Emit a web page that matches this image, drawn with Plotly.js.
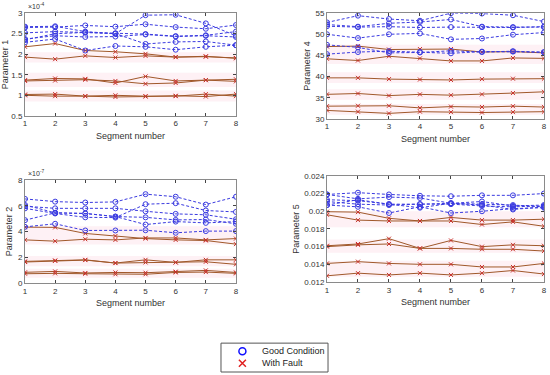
<!DOCTYPE html>
<html>
<head>
<meta charset="utf-8">
<script src="https://cdn.plot.ly/plotly-3.0.1.min.js"></script>
<style>html,body{margin:0;padding:0;background:#fff}#chart{width:550px;height:375px}</style>
</head>
<body>
<div id="chart"></div>
<script>
// Segment numbers
const segments = [1, 2, 3, 4, 5, 6, 7, 8];

// Parameter 1 (units of 1e-4)
const p1Good = [
  [2.67, 2.68, 2.55, 2.50, 2.95, 2.96, 2.75, 2.45],
  [2.65, 2.66, 2.70, 2.67, 2.73, 2.66, 2.62, 2.71],
  [2.52, 2.55, 2.53, 2.51, 2.49, 2.44, 2.46, 2.55],
  [2.37, 2.45, 2.42, 2.43, 2.48, 2.43, 2.45, 2.42],
  [2.29, 2.37, 2.09, 2.20, 2.18, 2.11, 2.18, 2.22],
  [2.35, 2.50, 2.53, 2.50, 2.25, 2.30, 2.31, 2.22]
];
const p1Fault = [
  [2.18, 2.26, 2.09, 2.06, 2.01, 1.93, 1.94, 1.91],
  [1.93, 1.88, 1.96, 1.92, 1.96, 1.93, 1.95, 1.90],
  [1.37, 1.41, 1.40, 1.30, 1.46, 1.35, 1.37, 1.39],
  [1.35, 1.36, 1.38, 1.35, 1.28, 1.30, 1.37, 1.34],
  [1.02, 1.03, 0.98, 1.00, 0.98, 0.98, 1.03, 0.98],
  [1.00, 0.98, 0.98, 0.96, 0.97, 0.99, 0.97, 1.03]
];

// Parameter 4
const p4Good = [
  [52.8, 54.4, 53.6, 53.2, 55.0, 54.9, 54.5, 53.0],
  [52.3, 51.8, 52.6, 52.9, 53.5, 51.8, 51.7, 51.7],
  [51.9, 51.7, 51.8, 51.6, 51.7, 51.7, 51.6, 51.8],
  [50.0, 49.1, 50.0, 50.2, 48.8, 49.0, 49.9, 50.4],
  [47.5, 46.9, 45.6, 45.7, 46.1, 45.8, 46.0, 45.7],
  [45.3, 45.8, 46.0, 45.8, 45.5, 45.9, 45.9, 45.8]
];
const p4Fault = [
  [47.1, 47.2, 46.4, 46.5, 46.5, 45.8, 45.9, 45.6],
  [44.2, 43.8, 44.8, 44.3, 43.7, 43.7, 44.4, 44.3],
  [39.7, 39.7, 39.4, 39.3, 39.2, 39.4, 39.5, 39.5],
  [35.8, 36.0, 35.5, 35.8, 35.6, 35.8, 36.1, 36.4],
  [33.0, 33.1, 33.1, 32.6, 32.9, 32.8, 33.0, 32.8],
  [32.0, 31.7, 31.3, 31.7, 31.6, 31.5, 31.6, 31.7]
];

// Parameter 2 (units of 1e-7)
const p2Good = [
  [6.53, 6.32, 6.25, 6.30, 6.90, 6.70, 6.09, 6.70],
  [5.96, 5.80, 5.80, 5.80, 5.57, 5.37, 5.30, 4.95],
  [6.06, 5.45, 5.40, 5.16, 5.10, 4.90, 4.93, 4.60],
  [5.80, 5.40, 5.10, 5.08, 6.12, 6.20, 5.63, 5.52],
  [4.88, 5.45, 5.40, 5.16, 4.54, 4.77, 4.67, 4.77],
  [4.36, 4.60, 4.08, 4.08, 4.10, 3.90, 4.03, 4.03]
];
const p2Fault = [
  [4.34, 4.32, 3.85, 3.65, 3.45, 3.35, 3.30, 3.02],
  [3.35, 3.25, 3.40, 3.35, 3.50, 3.50, 3.35, 3.45],
  [1.68, 1.75, 1.80, 1.55, 1.80, 1.60, 1.80, 1.80],
  [1.63, 1.72, 1.78, 1.55, 1.60, 1.60, 1.65, 1.45],
  [0.83, 0.90, 0.78, 0.82, 0.80, 0.88, 0.98, 0.82],
  [0.72, 0.75, 0.72, 0.68, 0.68, 0.82, 0.85, 0.75]
];

// Parameter 5
const p5Good = [
  [0.0219, 0.0221, 0.0219, 0.02175, 0.0217, 0.0218, 0.0218, 0.0220],
  [0.0219, 0.0214, 0.0216, 0.0215, 0.0209, 0.0211, 0.0206, 0.0207],
  [0.0213, 0.0212, 0.0208, 0.0208, 0.0209, 0.0208, 0.0207, 0.0205],
  [0.0211, 0.0208, 0.0207, 0.0208, 0.0208, 0.0206, 0.0205, 0.0206],
  [0.0207, 0.0205, 0.0198, 0.0205, 0.0198, 0.0200, 0.0203, 0.0204],
  [0.0207, 0.0213, 0.0208, 0.0204, 0.0209, 0.0207, 0.0202, 0.0205]
];
const p5Fault = [
  [0.01995, 0.0199, 0.0192, 0.0189, 0.0193, 0.0190, 0.0190, 0.0191],
  [0.0196, 0.0190, 0.0189, 0.0189, 0.0189, 0.0185, 0.0188, 0.0183],
  [0.0161, 0.0163, 0.0169, 0.0158, 0.0167, 0.0160, 0.0162, 0.0161],
  [0.0160, 0.0162, 0.0163, 0.0158, 0.0158, 0.0157, 0.0157, 0.0155],
  [0.0141, 0.0143, 0.0141, 0.0140, 0.0140, 0.0137, 0.0137, 0.0141],
  [0.0127, 0.0130, 0.0128, 0.0130, 0.0128, 0.0130, 0.0133, 0.0129]
];

const legendNames = ['Good Condition', 'With Fault'];
const yTitles = ['Parameter 1', 'Parameter 4', 'Parameter 2', 'Parameter 5'];
const xTitle = 'Segment number';

const GOOD = '#3a3ae0';
const FAULT_LINE = '#a0582a';
const FAULT_MK = '#c8302a';
const FONT = 'Liberation Sans, Arial, sans-serif';

const panels = [
  {good: p1Good, fault: p1Fault, xa: 'x', ya: 'y'},
  {good: p4Good, fault: p4Fault, xa: 'x2', ya: 'y2'},
  {good: p2Good, fault: p2Fault, xa: 'x3', ya: 'y3'},
  {good: p5Good, fault: p5Fault, xa: 'x4', ya: 'y4'}
];

const traces = [];
panels.forEach(p => {
  p.fault.forEach(s => traces.push({
    x: segments, y: s, xaxis: p.xa, yaxis: p.ya, mode: 'lines+markers', showlegend: false,
    line: {color: FAULT_LINE, width: 1},
    marker: {symbol: 'x-thin', size: 4, line: {color: FAULT_MK, width: 1}, color: FAULT_MK},
    hoverinfo: 'skip'
  }));
  p.good.forEach(s => traces.push({
    x: segments, y: s, xaxis: p.xa, yaxis: p.ya, mode: 'lines+markers', showlegend: false,
    line: {color: GOOD, width: 1, dash: '3px,2px'},
    marker: {symbol: 'circle-open', size: 5, color: GOOD, line: {width: 1}},
    hoverinfo: 'skip'
  }));
});
// custom legend: markers on a hidden helper axis (0..1 box coordinates), labels as annotations
traces.push({x: [0.2], y: [0.72], xaxis: 'x5', yaxis: 'y5', mode: 'markers', showlegend: false,
  marker: {symbol: 'circle-open', size: 7, color: '#1010ff', line: {width: 1.5}}, hoverinfo: 'skip'});
traces.push({x: [0.2], y: [0.30], xaxis: 'x5', yaxis: 'y5', mode: 'markers', showlegend: false,
  marker: {symbol: 'x-thin', size: 7, color: '#e02020', line: {width: 1.5, color: '#e02020'}}, hoverinfo: 'skip'});

function xaxis(domain, anchor) {
  return {
    domain: domain, anchor: anchor, range: [1, 8], tickvals: segments, ticks: 'inside', ticklen: 3,
    mirror: 'ticks', showline: true, linecolor: '#8a8a8a', linewidth: 1, showgrid: false, zeroline: false,
    tickfont: {size: 8, color: '#333', family: FONT},
    title: {text: xTitle, font: {size: 9, color: '#333', family: FONT}, standoff: 5}
  };
}
function yaxis(domain, anchor, range, dtick, title) {
  return {
    domain: domain, anchor: anchor, range: range, dtick: dtick, ticks: 'inside', ticklen: 3,
    mirror: 'ticks', showline: true, linecolor: '#8a8a8a', linewidth: 1, showgrid: false, zeroline: false,
    tickfont: {size: 8, color: '#333', family: FONT},
    title: {text: title, font: {size: 9, color: '#333', family: FONT}, standoff: 3}
  };
}

const pink = 'rgba(250,190,210,0.22)';
function band(xr, yr, y0, y1) {
  return {type: 'rect', xref: xr, yref: yr, x0: 1, x1: 8, y0: y0, y1: y1, fillcolor: pink, line: {width: 0}, layer: 'below'};
}

const layout = {
  width: 550, height: 375,
  margin: {l: 0, r: 0, t: 0, b: 0},
  paper_bgcolor: '#fff', plot_bgcolor: '#fff',
  font: {family: FONT},
  showlegend: false,
  xaxis: xaxis([0.0455, 0.429], 'y'),
  yaxis: yaxis([0.691, 0.965], 'x', [0.5, 3], 0.5, yTitles[0]),
  xaxis2: xaxis([0.5945, 0.989], 'y2'),
  yaxis2: yaxis([0.683, 0.965], 'x2', [30, 55], 5, yTitles[1]),
  xaxis3: xaxis([0.0455, 0.429], 'y3'),
  yaxis3: yaxis([0.2453, 0.52], 'x3', [0, 8], 2, yTitles[2]),
  xaxis4: xaxis([0.5945, 0.989], 'y4'),
  yaxis4: yaxis([0.248, 0.531], 'x4', [0.012, 0.024], 0.002, yTitles[3]),
  xaxis5: {domain: [0.4018, 0.5964], anchor: 'y5', range: [0, 1], visible: false, fixedrange: true},
  yaxis5: {domain: [0.008, 0.085], anchor: 'x5', range: [0, 1], visible: false, fixedrange: true},
  annotations: [
    {xref: 'paper', yref: 'paper', x: 0.047, y: 0.967, xanchor: 'left', yanchor: 'bottom', showarrow: false,
      text: '×10<sup>-4</sup>', font: {size: 7, color: '#333', family: FONT}},
    {xref: 'paper', yref: 'paper', x: 0.047, y: 0.522, xanchor: 'left', yanchor: 'bottom', showarrow: false,
      text: '×10<sup>-7</sup>', font: {size: 7, color: '#333', family: FONT}},
    {xref: 'x5', yref: 'y5', x: 0.36, y: 0.72, xanchor: 'left', yanchor: 'middle', showarrow: false,
      text: legendNames[0], font: {size: 9, color: '#222', family: FONT}},
    {xref: 'x5', yref: 'y5', x: 0.36, y: 0.30, xanchor: 'left', yanchor: 'middle', showarrow: false,
      text: legendNames[1], font: {size: 9, color: '#222', family: FONT}}
  ],
  shapes: [
    {type: 'rect', xref: 'x5 domain', yref: 'y5 domain', x0: 0, x1: 1, y0: 0, y1: 1,
      line: {color: '#555', width: 1}, fillcolor: 'rgba(0,0,0,0)'},
    band('x', 'y', 1.8, 2.05), band('x', 'y', 1.2, 1.55), band('x', 'y', 0.85, 1.12),
    band('x2', 'y2', 43, 47.5), band('x2', 'y2', 38.5, 41), band('x2', 'y2', 34.5, 37), band('x2', 'y2', 31, 33.5),
    band('x3', 'y3', 3, 4.4), band('x3', 'y3', 1.3, 2.1), band('x3', 'y3', 0.4, 1.1),
    band('x4', 'y4', 0.0182, 0.0200), band('x4', 'y4', 0.0153, 0.0168), band('x4', 'y4', 0.0126, 0.0144)
  ]
};

Plotly.newPlot('chart', traces, layout, {staticPlot: true, displayModeBar: false});
</script>
</body>
</html>
